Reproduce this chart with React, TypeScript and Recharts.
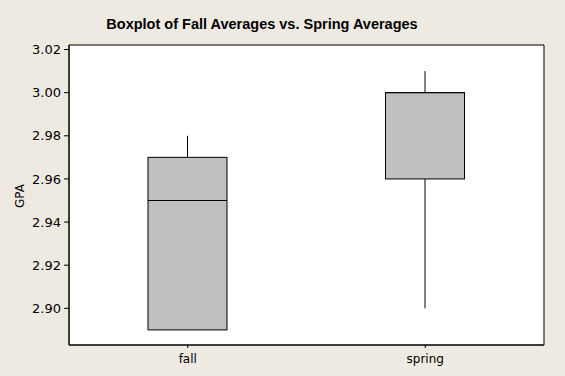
import { Bar, CartesianGrid, ComposedChart, ReferenceArea, XAxis, YAxis } from "recharts"

// five-number summaries
const groups = ["fall", "spring"]
const mins = [2.89, 2.9]
const q1s = [2.89, 2.96]
const medians = [2.95, 3.0]
const q3s = [2.97, 3.0]
const maxs = [2.98, 3.01]
const yTicks = [2.9, 2.92, 2.94, 2.96, 2.98, 3.0, 3.02]

const yMin = 2.883
const yMax = 3.0221

const data = groups.map((g, i) => ({
  group: g,
  range: [mins[i], maxs[i]],
  min: mins[i],
  q1: q1s[i],
  median: medians[i],
  q3: q3s[i],
  max: maxs[i],
}))

const font = "'DejaVu Sans', Tahoma, sans-serif"

function BoxShape(props: any) {
  const { x, y, width, height, payload } = props
  const top = Math.min(y, y + height)
  const bottom = Math.max(y, y + height)
  const span = payload.max - payload.min
  const py = (v: number) => bottom - ((v - payload.min) / span) * (bottom - top)
  const cx = x + width / 2
  const boxTop = py(payload.q3)
  const boxBottom = py(payload.q1)
  return (
    <g>
      <line x1={cx} x2={cx} y1={py(payload.max)} y2={boxTop} stroke="#000" strokeWidth={1} />
      <line x1={cx} x2={cx} y1={boxBottom} y2={py(payload.min)} stroke="#000" strokeWidth={1} />
      <rect x={x} y={boxTop} width={width} height={boxBottom - boxTop} fill="#c0c0c0" stroke="#000" strokeWidth={1} />
      <line x1={x} x2={x + width} y1={py(payload.median)} y2={py(payload.median)} stroke="#000" strokeWidth={1} />
    </g>
  )
}

export default function App() {
  return (
    <div style={{ position: "absolute", left: 0, top: 0, width: 565, height: 376, background: "#eeeae1" }}>
      <div
        style={{
          position: "absolute",
          left: 0,
          width: 524,
          top: 16,
          textAlign: "center",
          fontFamily: "'Liberation Sans', Arial, sans-serif",
          fontWeight: "bold",
          fontSize: 14.5,
          color: "#000",
        }}
      >
        Boxplot of Fall Averages vs. Spring Averages
      </div>
      <div
        style={{
          position: "absolute",
          left: 20,
          top: 196,
          transform: "translate(-50%, -50%) rotate(-90deg)",
          fontFamily: font,
          fontSize: 12,
          color: "#000",
        }}
      >
        GPA
      </div>
      <ComposedChart
        width={565}
        height={376}
        data={data}
        margin={{ top: 45, right: 21, bottom: 0, left: 0 }}
        barSize={79}
      >
        <CartesianGrid horizontal={false} vertical={false} fill="#ffffff" />
        <XAxis
          dataKey="group"
          height={31}
          tickSize={3}
          tickLine={{ stroke: "#000" }}
          axisLine={{ stroke: "#000" }}
          tick={{ fontSize: 12, fill: "#000", fontFamily: font }}
          tickMargin={6}
        />
        <YAxis
          type="number"
          domain={[yMin, yMax]}
          ticks={yTicks}
          allowDataOverflow
          width={69}
          tickSize={5}
          tickLine={{ stroke: "#000" }}
          axisLine={{ stroke: "#000" }}
          tick={{ fontSize: 13, fill: "#000", fontFamily: font }}
          tickMargin={3}
          tickFormatter={(v: number) => v.toFixed(2)}
        />
        <Bar dataKey="range" shape={BoxShape} isAnimationActive={false} />
        <ReferenceArea y1={yMin} y2={yMax} fill="none" stroke="#000" strokeWidth={1} ifOverflow="visible" />
      </ComposedChart>
    </div>
  )
}
